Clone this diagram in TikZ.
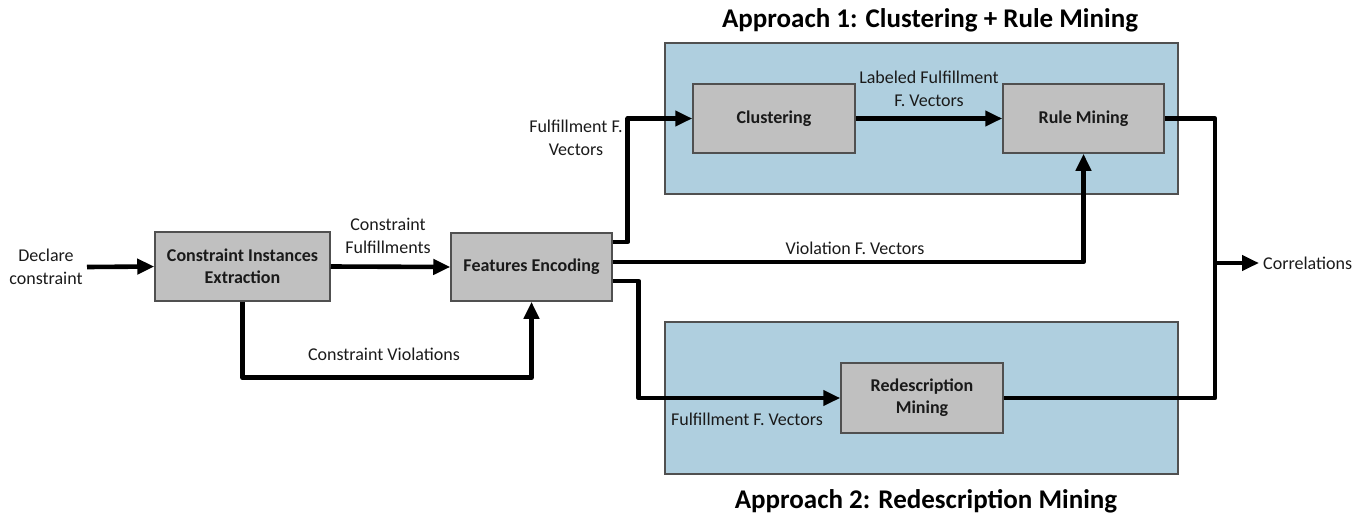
\documentclass[tikz,border=0pt]{standalone}
\usepackage{fontspec}
\setmainfont{Carlito}
\usetikzlibrary{arrows.meta,positioning,calc}
\definecolor{appblue}{HTML}{AFCFDF}
\definecolor{boxgray}{HTML}{C0C0C0}
\definecolor{edgegray}{HTML}{505050}
\definecolor{txt}{HTML}{1A1A1A}
\tikzset{
  approach/.style={draw=edgegray,line width=1.2pt,fill=appblue},
  procbox/.style={draw=edgegray,line width=1.5pt,fill=boxgray,rectangle,align=center,font=\fontsize{18}{22}\selectfont\bfseries,text=txt,inner sep=0pt},
  lbl/.style={align=center,font=\fontsize{18}{22.5}\selectfont,text=txt,inner sep=0pt},
  title/.style={font=\fontsize{27}{31}\selectfont\bfseries,text=black,inner sep=0pt},
  flow/.style={line width=4.6pt,-{Triangle[length=17pt,width=15pt]},line join=round},
  plain/.style={line width=4.6pt,line join=round}
}
\begin{document}
\begin{tikzpicture}[x=1pt,y=-1pt]
\useasboundingbox (0,0) rectangle (1371,517);
% approach regions
\draw[approach] (665,43) rectangle (1178,194);
\draw[approach] (665,322) rectangle (1178,474);
\node[title] (t1) at (930,20) {Approach 1: Clustering + Rule Mining};
\node[title] (t2) at (926,501) {Approach 2: Redescription Mining};
% boxes
\node[procbox,minimum width=175pt,minimum height=69pt] (cie) at (242.5,266.5) {Constraint Instances\\Extraction};
\node[procbox,minimum width=161pt,minimum height=68pt] (fe) at (531.5,267) {Features Encoding};
\node[procbox,minimum width=162pt,minimum height=69pt] (clu) at (774,118.5) {Clustering};
\node[procbox,minimum width=161pt,minimum height=69pt] (rm) at (1083.5,118.5) {Rule Mining};
\node[procbox,minimum width=162pt,minimum height=70pt] (red) at (922,398) {Redescription\\Mining};
% labels
\node[lbl] (decl) at (46,267) {Declare\\constraint};
\coordinate (declend) at (87,267);
\node[lbl] (lcf) at (388,236) {Constraint\\Fulfillments};
\node[lbl] (lcv) at (384,354) {Constraint Violations};
\node[lbl] (lff1) at (576,138) {Fulfillment F.\\Vectors};
\node[lbl] (lvf) at (855,248) {Violation F. Vectors};
\node[lbl] (lff2) at (747,419) {Fulfillment F. Vectors};
\node[lbl] (llf) at (929,89) {Labeled Fulfillment\\F. Vectors};
\node[lbl,anchor=west,inner sep=4pt] (corr) at (1259,263) {Correlations};
\coordinate (j) at (1215,263);
% connectors
\draw[flow] (declend) -- (cie.west);
\draw[flow] (cie.east) -- (fe.west);
\draw[flow] (cie.south) -- ++(0,76) -| (fe.south);
\draw[flow] ([yshift=25pt]fe.east) -- ++(15,0) |- (clu.west);
\draw[flow] ([yshift=5pt]fe.east) -| (rm.south);
\draw[flow] ([yshift=-14pt]fe.east) -- ++(26,0) |- (red.west);
\draw[flow] (clu.east) -- (rm.west);
\draw[plain] (rm.east) -| (j);
\draw[plain] (red.east) -| (j);
\draw[flow] (j) -- (corr.west);
\end{tikzpicture}
\end{document}
